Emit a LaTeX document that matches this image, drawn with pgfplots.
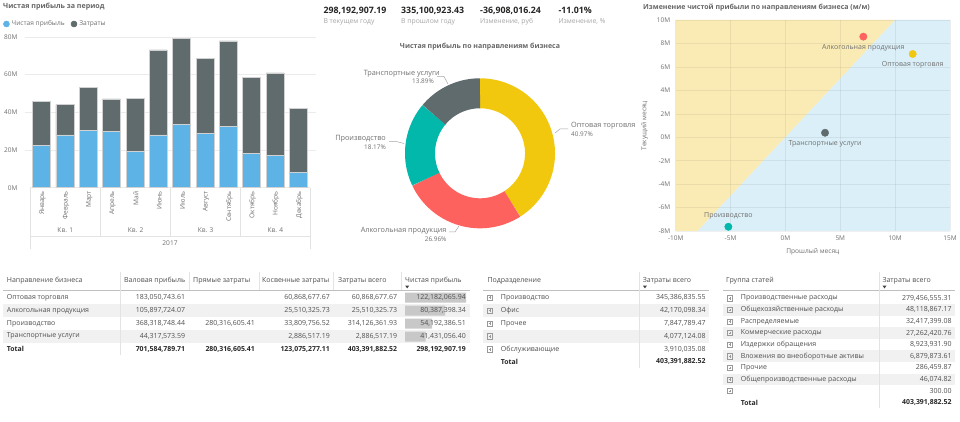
\documentclass[border=0pt]{standalone}
\usepackage{fontspec}
\setmainfont{Open Sans}
\usepackage{pgfplots}
\pgfplotsset{compat=1.18}
\usepackage{pgfplotstable}

\definecolor{pbblue}{HTML}{5DB3E6}
\definecolor{pbgray}{HTML}{5F6B6D}
\definecolor{pbyellow}{HTML}{F2C80F}
\definecolor{pbred}{HTML}{FD625E}
\definecolor{pbteal}{HTML}{01B8AA}
\definecolor{bgyellow}{HTML}{FAEBB4}
\definecolor{bgblue}{HTML}{DAEFF8}
\definecolor{ttl}{HTML}{666666}
\definecolor{lbl}{HTML}{707070}
\definecolor{lbl2}{HTML}{A6A6A6}
\definecolor{kpi}{HTML}{252423}
\definecolor{tbl}{HTML}{505050}
\definecolor{gridc}{HTML}{EBEBEB}
\definecolor{rowshade}{HTML}{F1F1F1}
\definecolor{databar}{HTML}{C8C8C8}
\definecolor{sepc}{HTML}{E3E3E3}

\newcommand\fs[1]{\fontsize{#1}{#1}\selectfont}

\pgfplotstableread{
m profit cost
0 22.5 23.4
1 28.1 16.0
2 30.3 22.8
3 29.9 17.3
4 19.1 28.5
5 28.1 45.1
6 33.8 45.3
7 28.9 39.6
8 32.4 45.6
9 18.4 40.2
10 17.0 43.9
11 8.3 34.0
}\monthly

% donut shares, %
\def\shA{40.97}\def\shB{26.96}\def\shC{18.17}\def\shD{13.89}
\pgfmathsetmacro\dA{90}
\pgfmathsetmacro\dB{\dA-3.6*\shA}
\pgfmathsetmacro\dC{\dB-3.6*\shB}
\pgfmathsetmacro\dD{\dC-3.6*\shC}
\pgfmathsetmacro\dE{\dD-3.6*\shD}

\begin{document}
\begin{tikzpicture}
\path[use as bounding box] (0pt,0pt) rectangle (960pt,422pt);
\fill[white] (0pt,0pt) rectangle (960pt,422pt);

% ---------- backgrounds ----------
\begin{scope}[x=1pt,y=-1pt,shift={(0pt,422pt)}]
 \fill[rowshade] (3,304.2) rectangle (470,317.2);
 \fill[rowshade] (3,329.8) rectangle (470,342.8);
 \fill[rowshade] (483,304.2) rectangle (709,317.2);
 \fill[rowshade] (483,329.8) rectangle (709,342.8);
 \foreach \yy in {309.9,333.1,356.3,379.5}{
   \fill[rowshade] (723,\yy-5.8) rectangle (955,\yy+5.8);
 }
 \draw[gridc, line width=0.5pt] (25,37) -- (30,37) (310,37) -- (316,37)
   (25,74.7) -- (30,74.7) (310,74.7) -- (316,74.7)
   (25,112.4) -- (30,112.4) (310,112.4) -- (316,112.4)
   (25,150) -- (30,150) (310,150) -- (316,150);
\end{scope}

% ---------- stacked bar chart ----------
\begin{axis}[
  at={(30pt,234.3pt)}, anchor=south west,
  scale only axis, width=280pt, height=150.7pt,
  xmin=-0.5, xmax=11.5, ymin=0, ymax=80,
  ybar stacked, bar width=18pt,
  axis line style={draw=none}, major tick length=0pt,
  ytick={0,20,40,60,80}, yticklabels={0M,20M,40M,60M,80M},
  ymajorgrids, grid style={gridc, line width=0.5pt},
  yticklabel style={font=\fs{6.5}, text=lbl, xshift=-9pt},
  xtick={0,...,11},
  xticklabels={Январь,Февраль,Март,Апрель,Май,Июнь,Июль,Август,Сентябрь,Октябрь,Ноябрь,Декабрь},
  xticklabel style={rotate=90, anchor=east, font=\fs{6.6}, text=lbl, yshift=-1pt},
  legend columns=2,
  legend style={at={(0,1)}, anchor=west, xshift=-28pt, yshift=13pt, draw=none, fill=none,
    font=\fs{6.6}, text=lbl, inner sep=1pt,
    /tikz/every even column/.append style={column sep=4pt}},
]
\addplot[fill=pbblue, draw=white!82!black, line width=0.5pt,
  legend image code/.code={\fill[pbblue] (1pt,0pt) circle (3pt);}]
  table[x=m, y=profit] {\monthly};
\addlegendentry{Чистая прибыль}
\addplot[fill=pbgray, draw=white!82!black, line width=0.5pt,
  legend image code/.code={\fill[pbgray] (1pt,0pt) circle (3pt);}]
  table[x=m, y=cost] {\monthly};
\addlegendentry{Затраты}
\end{axis}

% ---------- donut ----------
\begin{axis}[
  at={(405pt,193.7pt)}, anchor=south west,
  scale only axis, width=150pt, height=150pt,
  xmin=-75, xmax=75, ymin=-75, ymax=75, hide axis,
]
\addplot[draw=pbyellow, line width=30pt, domain=\dB:\dA, samples=90] ({60*cos(x)},{60*sin(x)});
\addplot[draw=pbred, line width=30pt, domain=\dC:\dB, samples=60] ({60*cos(x)},{60*sin(x)});
\addplot[draw=pbteal, line width=30pt, domain=\dD:\dC, samples=50] ({60*cos(x)},{60*sin(x)});
\addplot[draw=pbgray, line width=30pt, domain=\dE:\dD, samples=40] ({60*cos(x)},{60*sin(x)});
\end{axis}

% ---------- scatter ----------
\begin{axis}[
  at={(675.7pt,191pt)}, anchor=south west,
  scale only axis, width=274.3pt, height=211pt,
  xmin=-10, xmax=15, ymin=-8, ymax=10,
  axis on top,
  axis line style={draw=none}, major tick length=0pt,
  xtick={-10,-5,0,5,10,15}, xticklabels={-10M,-5M,0M,5M,10M,15M},
  ytick={-8,-6,...,10}, yticklabels={-8M,-6M,-4M,-2M,0M,2M,4M,6M,8M,10M},
  grid=major, grid style={black, opacity=0.06, line width=0.5pt},
  tick label style={font=\fs{6.5}, text=lbl},
  yticklabel style={xshift=-2pt},
  xticklabel style={yshift=-1pt},
  xlabel={Прошлый месяц}, ylabel={Текущий месяц},
  xlabel style={font=\fs{6.6}, text=lbl, yshift=-1pt},
  ylabel style={font=\fs{6.6}, text=lbl, yshift=2pt},
]
\addplot[fill=bgyellow, draw=none] coordinates {(-10,-8) (-8,-8) (10,10) (-10,10) (-10,-8)};
\addplot[fill=bgblue, draw=none] coordinates {(-8,-8) (15,-8) (15,10) (10,10) (-8,-8)};
\addplot[only marks, mark=*, mark size=3.7pt, color=pbred,
  nodes near coords, point meta=explicit symbolic,
  every node near coord/.append style={anchor=north, yshift=-4.2pt, font=\fs{7}, text=lbl}]
  coordinates {(7.10,8.58)[Алкогольная продукция]};
\addplot[only marks, mark=*, mark size=3.7pt, color=pbyellow,
  nodes near coords, point meta=explicit symbolic,
  every node near coord/.append style={anchor=north, yshift=-4.2pt, font=\fs{7}, text=lbl}]
  coordinates {(11.6,7.10)[Оптовая торговля]};
\addplot[only marks, mark=*, mark size=3.7pt, color=pbgray,
  nodes near coords, point meta=explicit symbolic,
  every node near coord/.append style={anchor=north, yshift=-4.2pt, font=\fs{7}, text=lbl}]
  coordinates {(3.61,0.38)[Транспортные услуги]};
\addplot[only marks, mark=*, mark size=3.7pt, color=pbteal,
  nodes near coords, point meta=explicit symbolic,
  every node near coord/.append style={anchor=south, yshift=4.2pt, font=\fs{7}, text=lbl}]
  coordinates {(-5.2,-7.64)[Производство]};
\end{axis}

% ---------- table data bars ----------
\begin{axis}[
  at={(405pt,130.8pt)}, anchor=north west,
  scale only axis, width=61pt, height=52pt,
  xmin=0, xmax=122.18, ymin=0.5, ymax=4.5, y dir=reverse,
  hide axis, xbar, bar width=10pt,
]
\addplot[fill=databar, draw=none] coordinates {(122.18,1) (80.39,2) (54.19,3) (41.43,4)};
\end{axis}

% ---------- texts and decorations ----------
\begin{scope}[x=1pt,y=-1pt,shift={(0pt,422pt)}, every node/.style={inner sep=0pt}]
 % bar chart
 \node[anchor=west, font=\bfseries\fs{7.1}, text=ttl] at (3,7) {Чистая прибыль за период};
 \draw[sepc, line width=0.5pt] (30,188) -- (30,249) (310,188) -- (310,249)
   (100.7,188) -- (100.7,236) (170.7,188) -- (170.7,236) (240.7,188) -- (240.7,236)
   (30,236) -- (310,236);
 \node[font=\fs{6.6}, text=lbl] at (65.3,230) {Кв. 1};
 \node[font=\fs{6.6}, text=lbl] at (135.7,230) {Кв. 2};
 \node[font=\fs{6.6}, text=lbl] at (205.7,230) {Кв. 3};
 \node[font=\fs{6.6}, text=lbl] at (275.3,230) {Кв. 4};
 \node[font=\fs{6.6}, text=lbl] at (170,243) {2017};

 % KPI cards
 \node[anchor=west, font=\bfseries\fs{8.8}, text=kpi] at (323.3,10.7) {298,192,907.19};
 \node[anchor=west, font=\fs{6.8}, text=lbl2] at (323.3,21.7) {В текущем году};
 \node[anchor=west, font=\bfseries\fs{8.8}, text=kpi] at (401,10.7) {335,100,923.43};
 \node[anchor=west, font=\fs{6.8}, text=lbl2] at (401,21.7) {В прошлом году};
 \node[anchor=west, font=\bfseries\fs{8.8}, text=kpi] at (480,10.7) {-36,908,016.24};
 \node[anchor=west, font=\fs{6.8}, text=lbl2] at (480,21.7) {Изменение, руб};
 \node[anchor=west, font=\bfseries\fs{8.8}, text=kpi] at (558.3,10.7) {-11.01\%};
 \node[anchor=west, font=\fs{6.8}, text=lbl2] at (558.3,21.7) {Изменение, \%};

 % donut
 \node[font=\bfseries\fs{7}, text=ttl] at (480,46.7) {Чистая прибыль по направлениям бизнеса};
 \draw[black!35, line width=0.5pt] (437,76.5) -- (444,76.5) -- (448,84);
 \node[anchor=east, font=\fs{7.3}, text=lbl] at (440,73.3) {Транспортные услуги};
 \node[anchor=east, font=\fs{6.4}, text=lbl] at (434,81.7) {13.89\%};
 \draw[black!35, line width=0.5pt] (555,133) -- (560,129) -- (568,129);
 \node[anchor=west, font=\fs{7.3}, text=lbl] at (571,126) {Оптовая торговля};
 \node[anchor=west, font=\fs{6.4}, text=lbl] at (571,134.7) {40.97\%};
 \draw[black!35, line width=0.5pt] (389,141.5) -- (396,141.5) -- (404,143.5);
 \node[anchor=east, font=\fs{7.3}, text=lbl] at (386,139) {Производство};
 \node[anchor=east, font=\fs{6.4}, text=lbl] at (386,147.7) {18.17\%};
 \draw[black!35, line width=0.5pt] (449,232) -- (455,232) -- (459,226);
 \node[anchor=east, font=\fs{7.3}, text=lbl] at (446.7,231) {Алкогольная продукция};
 \node[anchor=east, font=\fs{6.4}, text=lbl] at (446.7,239.7) {26.96\%};

 % scatter title
 \node[anchor=west, font=\bfseries\fs{7}, text=ttl] at (643,7.5) {Изменение чистой прибыли по направлениям бизнеса (м/м)};

 % ===== table 1 =====
 \draw[black!25, line width=0.6pt] (3,290) -- (470,290);
 \draw[sepc, line width=0.6pt] (120,272) -- (120,355);
 \draw[sepc, line width=0.5pt] (189.3,272) -- (189.3,290) (259.3,272) -- (259.3,290)
   (333.3,272) -- (333.3,290) (401,272) -- (401,290);
 \begin{scope}[every node/.append style={font=\fs{7}, text=tbl}]
 \node[anchor=west] at (6.7,280.5) {Направление бизнеса};
 \node[anchor=west] at (124,280.5) {Валовая прибыль};
 \node[anchor=west] at (193,280.5) {Прямые затраты};
 \node[anchor=west] at (262,280.5) {Косвенные затраты};
 \node[anchor=west] at (338,280.5) {Затраты всего};
 \node[anchor=west] at (405,280.5) {Чистая прибыль};
 \node[anchor=west] at (6.7,297.7) {Оптовая торговля};
 \node[anchor=west] at (6.7,310.7) {Алкогольная продукция};
 \node[anchor=west] at (6.7,323.7) {Производство};
 \node[anchor=west] at (6.7,336.3) {Транспортные услуги};
 \node[anchor=east] at (185.3,297.7) {183,050,743.61};
 \node[anchor=east] at (330,297.7) {60,868,677.67};
 \node[anchor=east] at (397.3,297.7) {60,868,677.67};
 \node[anchor=east] at (466,297.7) {122,182,065.94};
 \node[anchor=east] at (185.3,310.7) {105,897,724.07};
 \node[anchor=east] at (330,310.7) {25,510,325.73};
 \node[anchor=east] at (397.3,310.7) {25,510,325.73};
 \node[anchor=east] at (466,310.7) {80,387,398.34};
 \node[anchor=east] at (185.3,323.7) {368,318,748.44};
 \node[anchor=east] at (255,323.7) {280,316,605.41};
 \node[anchor=east] at (330,323.7) {33,809,756.52};
 \node[anchor=east] at (397.3,323.7) {314,126,361.93};
 \node[anchor=east] at (466,323.7) {54,192,386.51};
 \node[anchor=east] at (185.3,336.3) {44,317,573.59};
 \node[anchor=east] at (330,336.3) {2,886,517.19};
 \node[anchor=east] at (397.3,336.3) {2,886,517.19};
 \node[anchor=east] at (466,336.3) {41,431,056.40};
 \end{scope}
 \begin{scope}[every node/.append style={font=\bfseries\fs{6.9}, text=black!85}]
 \node[anchor=west] at (6.7,349.3) {Total};
 \node[anchor=east] at (185.3,349.3) {701,584,789.71};
 \node[anchor=east] at (255,349.3) {280,316,605.41};
 \node[anchor=east] at (330,349.3) {123,075,277.11};
 \node[anchor=east] at (397.3,349.3) {403,391,882.52};
 \node[anchor=east] at (466,349.3) {298,192,907.19};
 \end{scope}
 \fill[black!75] (405.2,285.6) -- (409.2,285.6) -- (407.2,288.4) -- cycle;

 % ===== table 2 =====
 \draw[black!25, line width=0.6pt] (483,290) -- (709,290);
 \draw[sepc, line width=0.6pt] (639.3,272) -- (639.3,368);
 \foreach \yy in {297.7,310.7,323.7,336.3,349.3}{
   \draw[black!40, line width=0.4pt] (487.3,\yy-2.6) rectangle (492.5,\yy+2.6);
   \draw[black!40, line width=0.4pt] (488.6,\yy) -- (491.2,\yy) (489.9,\yy-1.3) -- (489.9,\yy+1.3);
 }
 \begin{scope}[every node/.append style={font=\fs{7}, text=tbl}]
 \node[anchor=west] at (487.3,280.5) {Подразделение};
 \node[anchor=west] at (642.7,280.5) {Затраты всего};
 \node[anchor=west] at (500.7,297.7) {Производство};
 \node[anchor=west] at (500.7,310.7) {Офис};
 \node[anchor=west] at (500.7,323.7) {Прочее};
 \node[anchor=west] at (500.7,349.3) {Обслуживающие};
 \node[anchor=east] at (705.7,297.7) {345,386,835.55};
 \node[anchor=east] at (705.7,310.7) {42,170,098.34};
 \node[anchor=east] at (705.7,323.7) {7,847,789.47};
 \node[anchor=east] at (705.7,336.3) {4,077,124.08};
 \node[anchor=east] at (705.7,349.3) {3,910,035.08};
 \end{scope}
 \node[anchor=west, font=\bfseries\fs{6.9}, text=black!85] at (500.7,361.7) {Total};
 \node[anchor=east, font=\bfseries\fs{6.9}, text=black!85] at (705.7,361.7) {403,391,882.52};
 \fill[black!75] (642.9,285.6) -- (646.9,285.6) -- (644.9,288.4) -- cycle;

 % ===== table 3 =====
 \draw[black!25, line width=0.6pt] (723,290) -- (955,290);
 \draw[sepc, line width=0.6pt] (879.3,272) -- (879.3,408);
 \foreach \yy in {298.3,309.9,321.5,333.1,344.7,356.3,367.9,379.5,391.1}{
   \draw[black!40, line width=0.4pt] (727.4,\yy-2.6) rectangle (732.6,\yy+2.6);
   \draw[black!40, line width=0.4pt] (728.7,\yy) -- (731.3,\yy) (730,\yy-1.3) -- (730,\yy+1.3);
 }
 \begin{scope}[every node/.append style={font=\fs{7}, text=tbl}]
 \node[anchor=west] at (726,280.5) {Группа статей};
 \node[anchor=west] at (882.3,280.5) {Затраты всего};
 \node[anchor=west] at (740.7,298.3) {Производственные расходы};
 \node[anchor=west] at (740.7,309.9) {Общехозяйственные расходы};
 \node[anchor=west] at (740.7,321.5) {Распределяемые};
 \node[anchor=west] at (740.7,333.1) {Коммерческие расходы};
 \node[anchor=west] at (740.7,344.7) {Издержки обращения};
 \node[anchor=west] at (740.7,356.3) {Вложения во внеоборотные активы};
 \node[anchor=west] at (740.7,367.9) {Прочие};
 \node[anchor=west] at (740.7,379.5) {Общепроизводственные расходы};
 \node[anchor=east] at (951.7,298.3) {279,456,555.31};
 \node[anchor=east] at (951.7,309.9) {48,118,867.17};
 \node[anchor=east] at (951.7,321.5) {32,417,399.08};
 \node[anchor=east] at (951.7,333.1) {27,262,420.76};
 \node[anchor=east] at (951.7,344.7) {8,923,931.90};
 \node[anchor=east] at (951.7,356.3) {6,879,873.61};
 \node[anchor=east] at (951.7,367.9) {286,459.87};
 \node[anchor=east] at (951.7,379.5) {46,074.82};
 \node[anchor=east] at (951.7,391.1) {300.00};
 \end{scope}
 \node[anchor=west, font=\bfseries\fs{6.9}, text=black!85] at (740.7,402.7) {Total};
 \node[anchor=east, font=\bfseries\fs{6.9}, text=black!85] at (951.7,402.7) {403,391,882.52};
 \fill[black!75] (882.5,285.6) -- (886.5,285.6) -- (884.5,288.4) -- cycle;
\end{scope}
\end{tikzpicture}
\end{document}
